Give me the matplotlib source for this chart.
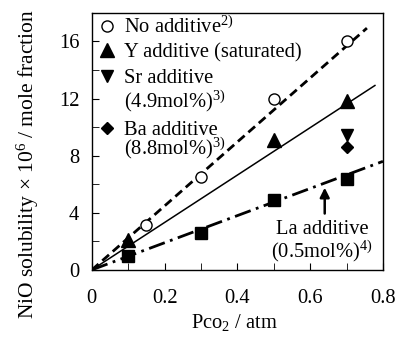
import numpy as np
import matplotlib
matplotlib.use("Agg")
import matplotlib.pyplot as plt
from matplotlib.ticker import MultipleLocator

plt.rcParams['font.family'] = ['Liberation Serif', 'DejaVu Serif']
plt.rcParams['mathtext.fontset'] = 'custom'
plt.rcParams['mathtext.rm'] = 'Liberation Serif'
plt.rcParams['mathtext.it'] = 'Liberation Serif:italic'

# data
p_none = [0.15, 0.3, 0.5, 0.7]
s_none = [3.15, 6.5, 12.0, 16.0]
p_y = [0.1, 0.5, 0.7]
s_y = [2.1, 9.1, 11.8]
p_sr = [0.7]
s_sr = [9.45]
p_ba = [0.7]
s_ba = [8.6]
p_la = [0.1, 0.3, 0.5, 0.7]
s_la = [1.0, 2.6, 4.9, 6.35]

# fitted lines through origin (slope, x end)
fit_none = (22.4, 0.756)
fit_y = (16.6, 0.778)
fit_la = (9.5, 0.8)

fig = plt.figure(figsize=(3.96, 3.39), dpi=100)
ax = fig.add_axes([0.232, 0.204, 0.735, 0.758])

for (k, xe), ls, lw in [(fit_none, (0, (3.2, 1.8)), 2.0),
                        (fit_y, '-', 1.1),
                        (fit_la, (0, (6, 2, 1, 2)), 2.0)]:
    xx = np.array([0, xe])
    ax.plot(xx, k * xx, color='black', linestyle=ls, linewidth=lw)

ax.plot(p_none, s_none, 'o', mfc='white', mec='black', ms=8, mew=1)
ax.plot(p_y, s_y, '^', color='black', ms=10)
ax.plot(p_sr, s_sr, 'v', color='black', ms=9)
ax.plot(p_ba, s_ba, 'D', color='black', ms=6.5)
ax.plot(p_la, s_la, 's', color='black', ms=8)

# hand-made legend (y = row centres, text placed on baseline)
fs = 14.8
bl = 0.5
ax.plot([0.041], [17.1], 'o', mfc='white', mec='black', ms=8, mew=1)
ax.plot([0.041], [15.4], '^', color='black', ms=10)
ax.plot([0.041], [13.6], 'v', color='black', ms=9)
ax.plot([0.041], [9.95], 'D', color='black', ms=6.5)
rows = [(17.1, 'No additive$^{2)}$'),
        (15.4, 'Y additive (saturated)'),
        (13.6, 'Sr additive'),
        (11.9, '(4.9mol%)$^{3)}$'),
        (9.95, 'Ba additive'),
        (8.6, '(8.8mol%)$^{3)}$')]
for yc, txt in rows:
    ax.text(0.088, yc - bl, txt, fontsize=fs, va='baseline')

ax.annotate('', xy=(0.64, 5.95), xytext=(0.64, 3.75),
            arrowprops=dict(arrowstyle='-|>', color='black', lw=1.8,
                            mutation_scale=14))
ax.text(0.633, 3.0 - bl, 'La additive', fontsize=fs, ha='center', va='baseline')
ax.text(0.633, 1.4 - bl, '(0.5mol%)$^{4)}$', fontsize=fs, ha='center', va='baseline')

ax.set_xlim(0, 0.8)
ax.set_ylim(0, 18)
ax.xaxis.set_major_locator(MultipleLocator(0.2))
ax.xaxis.set_minor_locator(MultipleLocator(0.1))
ax.yaxis.set_major_locator(MultipleLocator(4))
ax.yaxis.set_minor_locator(MultipleLocator(2))
ax.set_xticks([0, 0.2, 0.4, 0.6, 0.8])
ax.set_xticklabels(['0', '0.2', '0.4', '0.6', '0.8'])
ax.tick_params(which='both', direction='in', labelsize=fs)
ax.tick_params(axis='x', pad=14)
ax.tick_params(axis='y', pad=9)
ax.tick_params(which='both', length=5)
for sp in ax.spines.values():
    sp.set_linewidth(1.0)

ax.set_xlabel('Pco$_2$ / atm', fontsize=fs)
ax.xaxis.set_label_coords(0.49, -0.165)
ax.set_ylabel('NiO solubility \u00d7 10$^6$ / mole fraction', fontsize=15.5)
ax.yaxis.set_label_coords(-0.175, 0.41)

fig.savefig('out.png', dpi=100)
